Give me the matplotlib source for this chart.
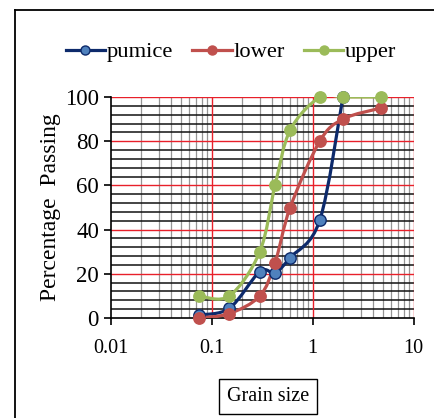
import matplotlib
matplotlib.use('Agg')
import matplotlib.pyplot as plt
import numpy as np
from matplotlib.path import Path
from matplotlib.patches import PathPatch
from matplotlib.lines import Line2D

grain_size = [0.075, 0.15, 0.3, 0.425, 0.6, 1.18, 2.0, 4.75]
pumice = [1.4, 4.4, 21, 20.5, 27.3, 44.3, 100, None]
lower = [0, 2, 10, 25, 50, 80, 90, 95]
upper = [10, 10, 30, 60, 85, 100, 100, 100]

series_names = ['pumice', 'lower', 'upper']
line_colors = ['#0D2A6B', '#C0504D', '#9BBB59']
marker_faces = ['#4F81BD', '#C0504D', '#9BBB59']
marker_edges = ['#0D2A6B', '#C0504D', '#9BBB59']

y_ticks = [0, 20, 40, 60, 80, 100]
x_ticks = [0.01, 0.1, 1, 10]
x_tick_labels = ['0.01', '0.1', '1', '10']

W, H = 434, 418


def smooth_path(xs, ys):
    # excel-like smoothed line: cubic bezier through points, in log-x space
    pts = np.array([(np.log10(x), y) for x, y in zip(xs, ys) if y is not None])
    n = len(pts)
    verts = [pts[0]]
    codes = [Path.MOVETO]
    for i in range(n - 1):
        p0 = pts[max(i - 1, 0)]
        p1 = pts[i]
        p2 = pts[i + 1]
        p3 = pts[min(i + 2, n - 1)]
        c1 = p1 + (p2 - p0) / 6.0
        c2 = p2 - (p3 - p1) / 6.0
        verts += [c1, c2, p2]
        codes += [Path.CURVE4] * 3
    verts = np.array(verts)
    verts[:, 0] = 10 ** verts[:, 0]
    return Path(verts, codes)


def main():
    plt.rcParams['font.family'] = ['Liberation Serif', 'DejaVu Serif']
    fig = plt.figure(figsize=(W / 100, H / 100), dpi=100)

    left, right, top, bottom = 110.7, 413.5, 97, 318
    ax = fig.add_axes([left / W, 1 - bottom / H, (right - left) / W, (bottom - top) / H])
    ax.set_xscale('log')
    ax.set_xlim(0.01, 10)
    ax.set_ylim(0, 100)

    # grid lines
    for d in [0.01, 0.1, 1]:
        for k in range(2, 10):
            ax.axvline(d * k, color='#959595', lw=0.9, zorder=1)
    for v in range(4, 100, 4):
        if v % 20:
            ax.axhline(v, color='#111111', lw=1.1, zorder=1)
    for v in [20, 40, 60, 80, 100]:
        ax.axhline(v, color='#E8202A', lw=1.0, zorder=2)
    for v in [0.1, 1, 10]:
        ax.axvline(v, color='#E8202A', lw=1.0, zorder=2)

    data = [pumice, lower, upper]
    for vals, lc in zip(data, line_colors):
        ax.add_patch(PathPatch(smooth_path(grain_size, vals), fill=False,
                               edgecolor=lc, lw=2.3, zorder=3, capstyle='round'))
    for vals, mf, me in zip(data, marker_faces, marker_edges):
        xs = [x for x, y in zip(grain_size, vals) if y is not None]
        ys = [y for y in vals if y is not None]
        ax.plot(xs, ys, ls='none', marker='o', ms=8.2, mfc=mf, mec=me,
                mew=1.0, zorder=4, clip_on=False)

    ax.spines['top'].set_visible(False)
    ax.spines['right'].set_visible(False)
    ax.spines['left'].set_linewidth(1.2)
    ax.spines['bottom'].set_linewidth(1.2)
    ax.set_yticks(y_ticks)
    ax.set_xticks(x_ticks)
    ax.set_xticklabels(x_tick_labels)
    ax.minorticks_off()
    ax.tick_params(axis='both', direction='out', length=5, width=1.2)
    ax.tick_params(axis='y', labelsize=16.5, pad=3.5)
    ax.tick_params(axis='x', labelsize=14.5, pad=10)
    ax.set_ylabel('Percentage  Passing', fontsize=17, labelpad=3)

    handles = [Line2D([], [], color=lc, lw=2.3, marker='o', ms=6.5, mfc=mf, mec=me)
               for lc, mf, me in zip(line_colors, marker_faces, marker_edges)]
    fig.legend(handles, series_names, loc='center', bbox_to_anchor=(231 / W, 1 - 52 / H),
               ncol=3, frameon=False, fontsize=16.2, handlelength=1.75,
               handletextpad=0.08, columnspacing=0.85, borderpad=0, borderaxespad=0)

    fig.text(268 / W, 1 - 396.5 / H, 'Grain size', ha='center', va='center', fontsize=14.5,
             bbox=dict(boxstyle='square,pad=0.38', fc='white', ec='black', lw=1.0))

    # outer frame (right and bottom edges fall outside the picture)
    fig.add_artist(Line2D([15 / W, 15 / W], [-0.05, 1 - 10 / H], transform=fig.transFigure,
                          color='black', lw=1.3))
    fig.add_artist(Line2D([15 / W, 1.05], [1 - 10 / H, 1 - 10 / H], transform=fig.transFigure,
                          color='black', lw=1.3))

    fig.savefig('out.png', dpi=100)


if __name__ == '__main__':
    main()
